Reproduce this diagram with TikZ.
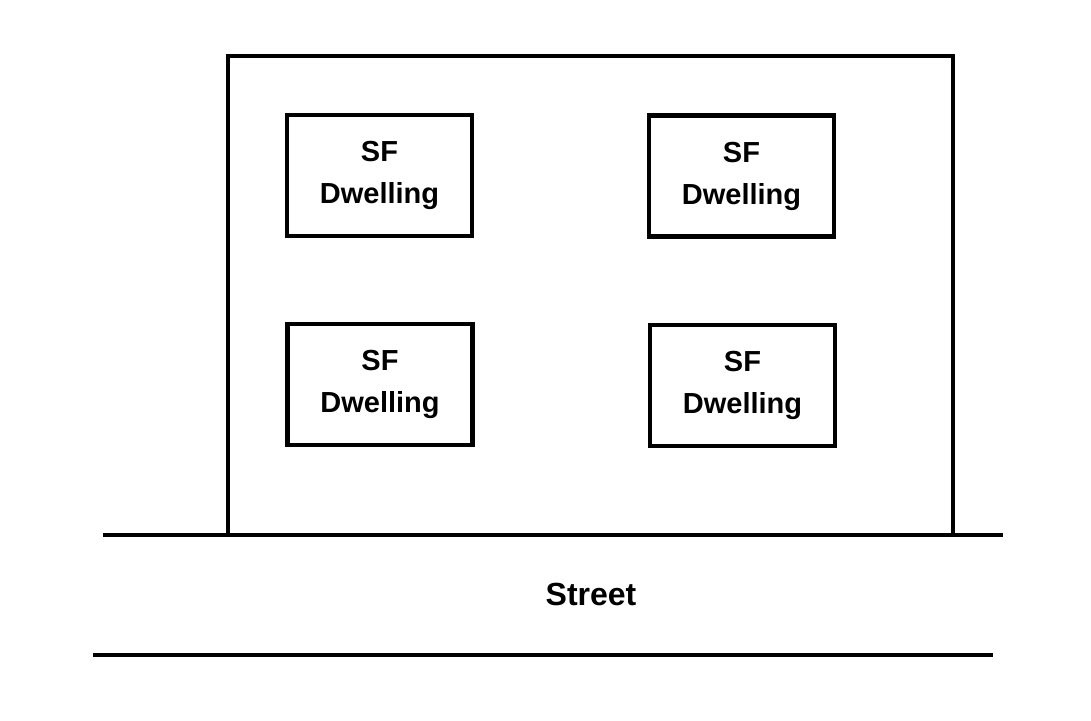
\documentclass[tikz,border=0pt]{standalone}
\usepackage{fontspec}
\setmainfont{Liberation Sans}
\usetikzlibrary{positioning}

\begin{document}
\begin{tikzpicture}[
    x=0.5pt, y=-0.5pt,
    house/.style={rectangle, draw, line width=2.3pt, minimum width=92.5pt, minimum height=60.5pt,
      align=center, font=\fontsize{14.5}{21}\selectfont\bfseries, inner sep=0pt},
    lot/.style={line width=2pt},
    road/.style={line width=2pt},
    lbl/.style={font=\fontsize{16}{19}\selectfont\bfseries}
  ]
  \path[use as bounding box] (0,0) rectangle (1091,720);
  % parcel
  \draw[lot] (228,533) -- (228,56) -- (953,56) -- (953,533);
  % dwellings
  \node[house] (tl) at (379.5,175.5) {SF\\Dwelling};
  \node[house] (tr) at (741.5,176) {SF\\Dwelling};
  \node[house] (bl) at (380,384.5) {SF\\Dwelling};
  \node[house] (br) at (742.5,385.5) {SF\\Dwelling};
  % street
  \coordinate (s1) at (103,535);
  \coordinate (s2) at (1003,535);
  \coordinate (s3) at (93,655);
  \coordinate (s4) at (993,655);
  \draw[road] (s1) -- (s2);
  \draw[road] (s3) -- (s4);
  \node[lbl] (street) at (591,594) {Street};
\end{tikzpicture}
\end{document}
